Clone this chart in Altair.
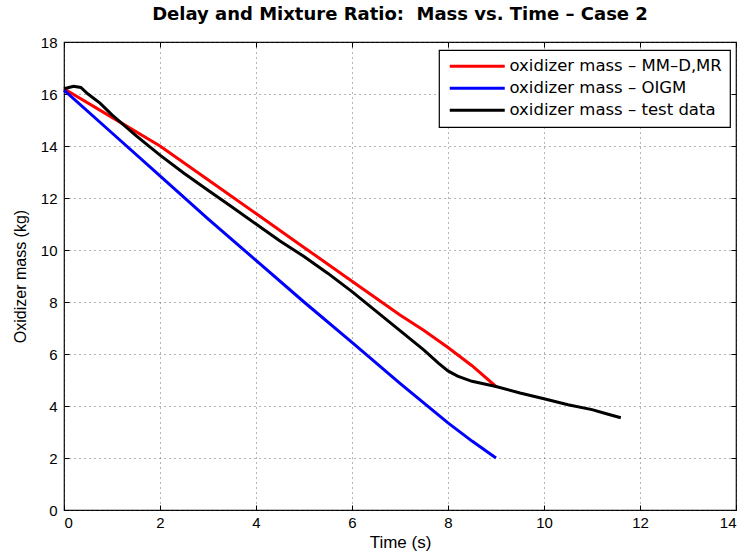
import altair as alt
import pandas as pd

series_names = ["oxidizer mass \u2013 MM\u2013D,MR", "oxidizer mass \u2013 OIGM", "oxidizer mass \u2013 test data"]
series_colors = ["#ff0000", "#0000ff", "#000000"]

red_t = [0, 1, 2, 3, 4, 5, 6, 7, 7.5, 8, 8.5, 9]
red_m = [16.2, 15.1, 14.0, 12.7, 11.4, 10.1, 8.8, 7.5, 6.9, 6.25, 5.55, 4.75]

blue_t = [0, 1, 2, 3, 4, 5, 6, 7, 8, 8.5, 9]
blue_m = [16.15, 14.5, 12.85, 11.2, 9.6, 8.0, 6.45, 4.87, 3.35, 2.65, 2.0]

black_t = [0, 0.1, 0.2, 0.35, 0.5, 0.75, 1, 1.5, 2, 2.5, 3, 3.5, 4, 4.5, 5, 5.5, 6, 6.5,
           7, 7.5, 7.8, 8, 8.2, 8.5, 9, 9.5, 10, 10.5, 11, 11.3, 11.6]
black_m = [16.2, 16.25, 16.3, 16.25, 16.0, 15.65, 15.2, 14.4, 13.65, 12.95, 12.3, 11.65,
           11.0, 10.35, 9.75, 9.1, 8.4, 7.65, 6.9, 6.15, 5.65, 5.35, 5.15, 4.95, 4.75,
           4.5, 4.28, 4.05, 3.86, 3.7, 3.55]

x_ticks = [0, 2, 4, 6, 8, 10, 12, 14]
y_ticks = [0, 2, 4, 6, 8, 10, 12, 14, 16, 18]

rows = []
for name, ts, ms in [(series_names[0], red_t, red_m), (series_names[1], blue_t, blue_m),
                     (series_names[2], black_t, black_m)]:
    for i, (t, m) in enumerate(zip(ts, ms)):
        rows.append({"series": name, "t": t, "m": m, "i": i})
df = pd.DataFrame(rows)

FONT = "Liberation Sans"
TITLE_FONT = "DejaVu Sans"

xscale = alt.Scale(domain=[0, 14], nice=False, zero=False)
yscale = alt.Scale(domain=[0, 18], nice=False)

main = alt.Chart(df).mark_line(strokeWidth=3).encode(
    x=alt.X("t:Q", title="Time (s)", scale=xscale,
            axis=alt.Axis(values=x_ticks, format="d", orient="bottom", ticks=False,
                          labelPadding=5, titlePadding=4, titleFontSize=17)),
    y=alt.Y("m:Q", title="Oxidizer mass (kg)", scale=yscale,
            axis=alt.Axis(values=y_ticks, format="d", orient="left", ticks=False,
                          labelPadding=7, titlePadding=12, titleFontSize=16)),
    color=alt.Color("series:N", title=None,
                    scale=alt.Scale(domain=series_names, range=series_colors),
                    legend=alt.Legend(orient="none", legendX=375, legendY=8,
                                      symbolType="M-1,0L9,0", symbolStrokeWidth=3,
                                      symbolSize=121, symbolOffset=0,
                                      labelOffset=46, labelFontSize=16.5, labelFont=TITLE_FONT,
                                      labelLimit=400, strokeColor="black", fillColor="white",
                                      padding=8, rowPadding=5, cornerRadius=0)),
    strokeWidth=alt.StrokeWidth("series:N",
                                scale=alt.Scale(domain=series_names, range=[3, 3, 4]),
                                legend=None),
    order="i:Q",
)

ticks_tr = alt.Chart(df).mark_point(opacity=0).encode(
    x=alt.X("t:Q", scale=xscale,
            axis=alt.Axis(values=x_ticks, orient="top", labels=False, title=None,
                          grid=False, ticks=True, tickSize=5, offset=-5)),
    y=alt.Y("m:Q", scale=yscale,
            axis=alt.Axis(values=y_ticks, orient="right", labels=False, title=None,
                          grid=False, ticks=True, tickSize=5, offset=-5)),
)

ticks_bl = alt.Chart(df).mark_point(opacity=0).encode(
    x=alt.X("t:Q", scale=xscale,
            axis=alt.Axis(values=x_ticks, orient="bottom", labels=False, title=None,
                          grid=False, ticks=True, tickSize=5, offset=-5)),
    y=alt.Y("m:Q", scale=yscale,
            axis=alt.Axis(values=y_ticks, orient="left", labels=False, title=None,
                          grid=False, ticks=True, tickSize=5, offset=-5)),
)

chart = alt.layer(main, ticks_tr, ticks_bl).resolve_axis(
    x="independent", y="independent"
).properties(
    width=672, height=468,
    title=alt.Title("Delay and Mixture Ratio: \u00a0Mass vs. Time \u2013 Case 2",
                    font=TITLE_FONT, fontSize=18, fontWeight="bold", anchor="middle",
                    offset=11, color="black"),
    autosize=alt.AutoSizeParams(type="none"),
    padding={"left": 64, "top": 42, "right": 14, "bottom": 50},
).configure_view(stroke="black", strokeWidth=1.2).configure_axis(
    grid=True, gridColor="#444444", gridDash=[1, 4], gridOpacity=0.8, gridWidth=1,
    domain=False, tickColor="black", tickWidth=1,
    labelFont=FONT, labelFontSize=15, labelColor="black",
    titleFont=FONT, titleFontWeight="normal", titleColor="black",
).configure_legend(strokeWidth=1.2)

chart.save("out.html", embed_options={"renderer": "svg", "actions": False})
